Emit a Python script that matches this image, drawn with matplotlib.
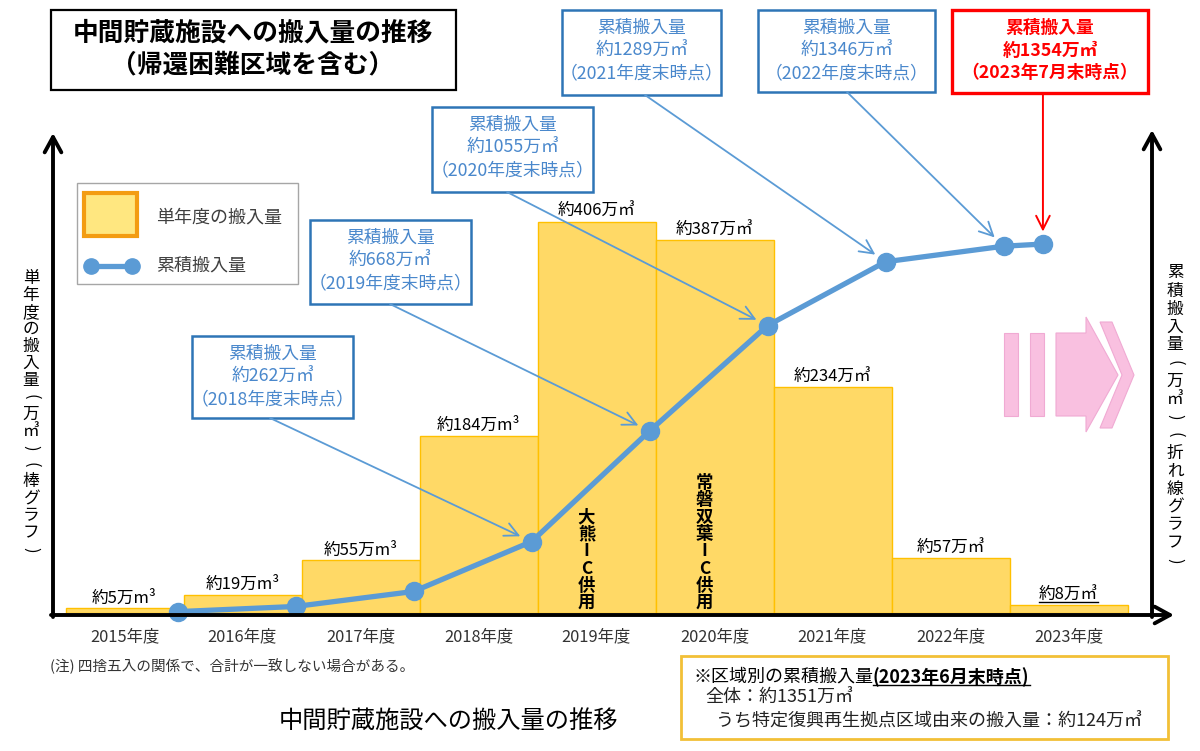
import matplotlib
matplotlib.use('Agg')
import matplotlib.pyplot as plt
from matplotlib.patches import Rectangle, Polygon

plt.rcParams['font.family'] = ['Noto Sans CJK JP', 'DejaVu Sans']

# ---------------- data ----------------
years = ['2015年度', '2016年度', '2017年度', '2018年度', '2019年度',
         '2020年度', '2021年度', '2022年度', '2023年度']
annual = [5, 19, 55, 184, 406, 387, 234, 57, 8]
annual_labels = ['約5万m³', '約19万m³', '約55万m³', '約184万m³', '約406万㎥',
                 '約387万㎥', '約234万㎥', '約57万㎥', '約8万㎥']
cumulative = [5, 24, 79, 262, 668, 1055, 1289, 1346, 1354]
cum_fy_index = [0, 1, 2, 3, 4, 5, 6, 7, 8]
cum_months = [12, 12, 12, 12, 12, 12, 12, 12, 4]   # months elapsed in the fiscal year
callout_points = [3, 4, 5, 6, 7, 8]
callout_values = ['約262万㎥', '約668万㎥', '約1055万㎥', '約1289万㎥', '約1346万㎥', '約1354万㎥']
callout_periods = ['（2018年度末時点）', '（2019年度末時点）', '（2020年度末時点）',
                   '（2021年度末時点）', '（2022年度末時点）', '（2023年7月末時点）']
ic_labels = {4: '大熊IC供用', 5: '常磐双葉IC供用'}

BAR_FILL = '#FFD966'
BAR_EDGE = '#FFC000'
BLUE = '#5B9BD5'
BOX_BLUE = '#2E75B6'
TXT_BLUE = '#4A88CC'

# ---------------- figure ----------------
W, H = 1200, 751
fig = plt.figure(figsize=(12, 7.51), dpi=100)
fig.patch.set_facecolor('white')

left_px, right_px, base_px, top_px = 53, 1160, 613, 130
ax = fig.add_axes([left_px / W, (H - base_px) / H,
                   (right_px - left_px) / W, (base_px - top_px) / H])
ax.patch.set_visible(False)
bar_w_px = 118
c0 = 124.5
ax.set_xlim(-(c0 - left_px) / bar_w_px, (right_px - c0) / bar_w_px)
ax.set_ylim(0, (base_px - top_px) / 0.964)
ax.bar(range(len(annual)), annual, width=1.0, color=BAR_FILL,
       edgecolor=BAR_EDGE, linewidth=1.0, zorder=2)
ax.set_xticks(range(len(years)))
ax.set_xticklabels(years)
ax.tick_params(axis='x', length=0, pad=11, labelsize=11.8, labelcolor='#333333')
ax.set_yticks([])
for s in ax.spines.values():
    s.set_visible(False)

label_texts = []
for i, (v, lab) in enumerate(zip(annual, annual_labels)):
    t = ax.annotate(lab, xy=(i, v), xytext=(0, 1.0), textcoords='offset points',
                    ha='center', va='bottom', fontsize=12, color='black', zorder=4)
    label_texts.append(t)

ax2 = ax.twinx()
ax2.set_ylim(0, (base_px - top_px) / 0.2725)
ax2.set_yticks([])
for s in ax2.spines.values():
    s.set_visible(False)
cum_x = [i - 0.5 + m / 12 - 0.05 for i, m in zip(cum_fy_index, cum_months)]
ax2.plot(cum_x, cumulative, color=BLUE, lw=3.8, marker='o', ms=13,
         markeredgecolor=BLUE, clip_on=False, zorder=5)

# ---------------- overlay (pixel coords) ----------------
ov = fig.add_axes([0, 0, 1, 1], zorder=10)
ov.set_xlim(0, W)
ov.set_ylim(H, 0)
ov.axis('off')
ov.patch.set_visible(False)

# IC text inside bars
for i, txt in ic_labels.items():
    xb = ov.transData.inverted().transform(ax.transData.transform((i, 0)))[0] - 10
    n = len(txt)
    step = 17.2
    for k, ch in enumerate(txt):
        ov.text(xb, 603 - (n - 1 - k) * step, ch, ha='center', va='center',
                fontsize=12.5, fontweight='bold', color='black')

# axes arrows
ax_arrow = dict(arrowstyle='->,head_length=0.55,head_width=0.3', lw=2.8,
                color='black', mutation_scale=20, shrinkA=0, shrinkB=0)
ov.annotate('', xy=(1174, 615), xytext=(51, 615), arrowprops=ax_arrow)
ov.annotate('', xy=(53, 133), xytext=(53, 617), arrowprops=ax_arrow)
ov.annotate('', xy=(1152, 130), xytext=(1152, 617), arrowprops=ax_arrow)

# title box
ov.add_patch(Rectangle((51, 10), 405, 80, fill=True, facecolor='white',
                       edgecolor='black', lw=1.6))
ov.text(253, 33, '中間貯蔵施設への搬入量の推移', ha='center', va='center',
        fontsize=18.5, fontweight='bold', color='black')
ov.text(253, 65, '（帰還困難区域を含む）', ha='center', va='center',
        fontsize=18.5, fontweight='bold', color='black')

# legend
ov.add_patch(Rectangle((77, 183), 221, 101, facecolor='white',
                       edgecolor='#A6A6A6', lw=1.0))
ov.add_patch(Rectangle((84, 193), 53, 43, facecolor='#FFE780',
                       edgecolor='#F39C12', lw=3.0))
ov.plot([91, 132], [266, 266], color=BLUE, lw=3.8, marker='o', ms=11,
        solid_capstyle='butt')
ov.text(156, 218, '単年度の搬入量', ha='left', va='center', fontsize=13, color='#404040')
ov.text(156, 266, '累積搬入量', ha='left', va='center', fontsize=13, color='#404040')

# callout boxes
boxes = [(192, 336, 353, 418), (310, 220, 471, 304), (432, 107, 593, 192),
         (562, 10, 721, 95), (758, 10, 935, 92), (952, 10, 1148, 93)]
starts = [(270, 418), (390, 304), (507, 192), (645, 95), (847, 92), (None, 93)]
for j, (pi, val, per) in enumerate(zip(callout_points, callout_values, callout_periods)):
    x0, y0, x1, y1 = boxes[j]
    red = (j == len(callout_points) - 1)
    ec = '#FF0000' if red else BOX_BLUE
    tc = '#FF0000' if red else TXT_BLUE
    fw = 'bold' if red else 'normal'
    ov.add_patch(Rectangle((x0, y0), x1 - x0, y1 - y0, facecolor='white',
                           edgecolor=ec, lw=2.4 if red else 1.8))
    xc = (x0 + x1) / 2
    for k, line in enumerate(['累積搬入量', val, per]):
        ov.text(xc, y0 + 18 + 22.5 * k, line, ha='center', va='center',
                fontsize=12.8, color=tc, fontweight=fw)
    px, py = ov.transData.inverted().transform(
        ax2.transData.transform((cum_x[pi], cumulative[pi])))
    sx, sy = starts[j]
    if sx is None:
        sx = px
    ov.annotate('', xy=(px, py), xytext=(sx, sy),
                arrowprops=dict(arrowstyle='->,head_length=0.7,head_width=0.35',
                                mutation_scale=14, lw=1.3 if not red else 1.4,
                                color=BLUE if not red else '#FF0000',
                                shrinkA=0, shrinkB=9))

# pink arrow
pink = '#F9C0E0'
pink_edge = '#F0AAD3'
ov.add_patch(Rectangle((1004, 333), 14, 83, facecolor=pink, edgecolor=pink_edge, lw=0.8))
ov.add_patch(Rectangle((1030, 333), 14, 83, facecolor=pink, edgecolor=pink_edge, lw=0.8))
ov.add_patch(Polygon([(1056, 333), (1086, 333), (1086, 317), (1118, 375),
                      (1086, 432), (1086, 416), (1056, 416)], closed=True,
                     facecolor=pink, edgecolor=pink_edge, lw=0.8))
ov.add_patch(Polygon([(1100, 322), (1112, 322), (1134, 375), (1112, 428),
                      (1100, 428), (1122, 375)], closed=True,
                     facecolor=pink, edgecolor=pink_edge, lw=0.8))

# vertical axis labels (parentheses drawn rotated as in vertical writing)
left_chars = ['単', '年', '度', 'の', '搬', '入', '量', '(', '万', '㎥', ')', '(',
              '棒', 'グ', 'ラ', 'フ', ')']
right_chars = ['累', '積', '搬', '入', '量', '(', '万', '㎥', ')', '(',
               '折', 'れ', '線', 'グ', 'ラ', 'フ', ')']


def vertical_label(x, y0, step, chars):
    for k, ch in enumerate(chars):
        if ch in '()':
            ov.text(x, y0 + k * step, ch, ha='center', va='center', fontsize=12,
                    color='black', rotation=-90, rotation_mode='anchor')
        else:
            ov.text(x, y0 + k * step, ch, ha='center', va='center', fontsize=12,
                    color='black')


vertical_label(31, 279, 16.9, left_chars)
vertical_label(1175, 273, 18.0, right_chars)

# note & bottom title
ov.text(50, 666, '(注) 四捨五入の関係で、合計が一致しない場合がある。', ha='left',
        va='center', fontsize=10.5, color='#333333')
ov.text(448, 722, '中間貯蔵施設への搬入量の推移', ha='center', va='center',
        fontsize=17.5, color='black')

# bottom-right box
ov.add_patch(Rectangle((681, 656), 487, 83, facecolor='white',
                       edgecolor='#F2C037', lw=2.0))
t1 = ov.text(693, 677, '※区域別の累積搬入量', ha='left', va='center',
             fontsize=13, color='black')
ov.text(705, 698, '全体：約1351万㎥', ha='left', va='center', fontsize=13, color='#222222')
ov.text(716, 721, 'うち特定復興再生拠点区域由来の搬入量：約124万㎥', ha='left',
        va='center', fontsize=13, color='#222222')

fig.canvas.draw()
inv = ov.transData.inverted()
bb = t1.get_window_extent()
xe = inv.transform((bb.x1, bb.y0))[0]
t2 = ov.text(xe, 677, '(2023年6月末時点)', ha='left', va='center',
             fontsize=13, fontweight='bold', color='black')
fig.canvas.draw()
bb2 = t2.get_window_extent()
(ux0, uy), (ux1, _) = inv.transform([(bb2.x0, bb2.y0), (bb2.x1, bb2.y0)])
ov.plot([ux0, ux1], [uy - 2, uy - 2], color='black', lw=1.0)

# underline for last annual label
bb3 = label_texts[-1].get_window_extent()
(lx0, ly), (lx1, _) = inv.transform([(bb3.x0, bb3.y0), (bb3.x1, bb3.y0)])
ov.plot([lx0, lx1], [ly - 2, ly - 2], color='black', lw=1.0)

fig.savefig('out.png', dpi=100, facecolor='white')
